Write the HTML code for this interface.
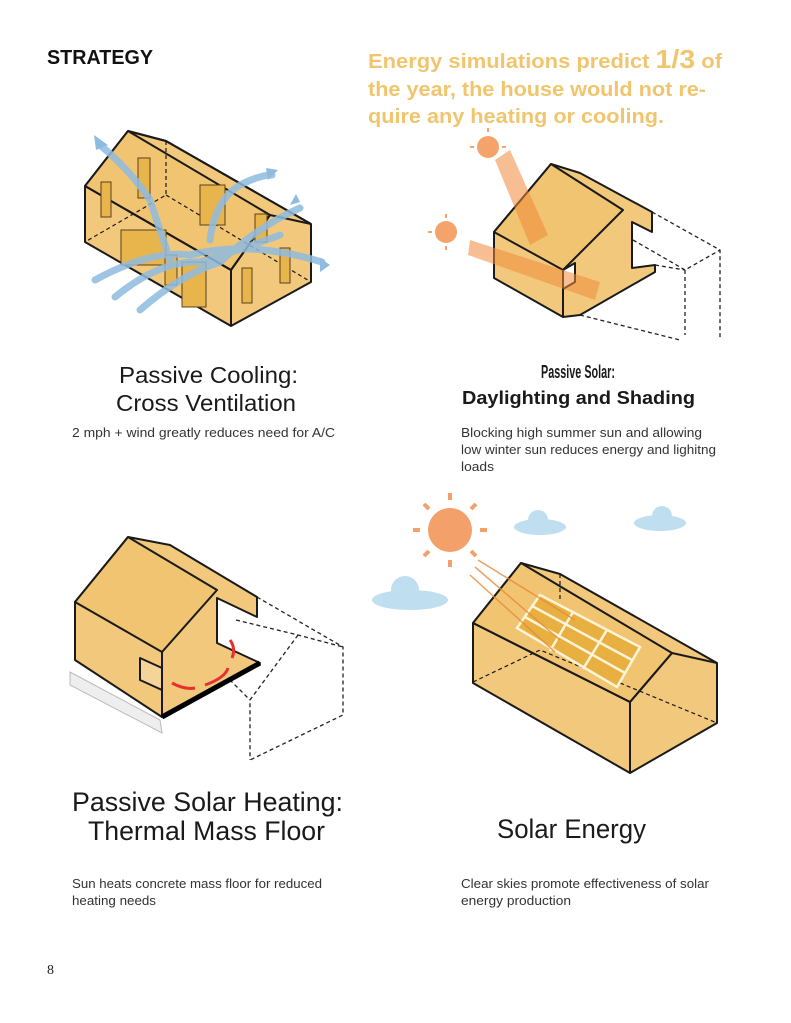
<!DOCTYPE html>
<html><head><meta charset="utf-8"><style>
html,body{margin:0;padding:0;background:#fff;}
svg{display:block;}
.t{font-family:"Liberation Sans Narrow","Liberation Sans",sans-serif;fill:#1a1a1a;}
.d{font-family:"Liberation Sans",sans-serif;fill:#333;font-size:12.5px;}
.h{font-family:"Liberation Sans",sans-serif;font-weight:bold;fill:#f1c56e;font-size:20px;}
</style></head><body>
<svg width="791" height="1023" viewBox="0 0 791 1023" xmlns="http://www.w3.org/2000/svg">
<rect width="791" height="1023" fill="#fff"/>
<text x="47" y="64" font-family="Liberation Sans,sans-serif" font-weight="bold" font-size="20" fill="#111" textLength="106" lengthAdjust="spacingAndGlyphs">STRATEGY</text>
<text class="h" x="368" y="68" textLength="354" lengthAdjust="spacingAndGlyphs">Energy simulations predict <tspan font-size="26">1/3</tspan> of</text>
<text class="h" x="368" y="96" textLength="338" lengthAdjust="spacingAndGlyphs">the year, the house would not re-</text>
<text class="h" x="368" y="123" textLength="296" lengthAdjust="spacingAndGlyphs">quire any heating or cooling.</text>

<!-- House 1 -->
<g stroke="#1a1a1a" stroke-width="2" stroke-linejoin="round">
<polygon points="85,186 128,131 166,141 311,224 311,282 231,326 85,242" fill="#f2c97c"/>
<polygon points="85,186 128,131 270,215 231,270" fill="#f0c470"/>
<polyline points="85,186 231,270 231,326" fill="none"/>
<polyline points="231,270 270,215 311,224" fill="none"/>
<polyline points="128,131 166,141 311,224" fill="none"/>
</g>
<g stroke="#1a1a1a" stroke-width="1.2" stroke-dasharray="4,3" fill="none">
<polyline points="166,141 166,195 85,242"/><line x1="166" y1="195" x2="311" y2="282"/>
</g>
<g fill="#e8b54c" stroke="#5a4020" stroke-width="1">
<rect x="101" y="182" width="10" height="35"/><rect x="138" y="158" width="12" height="40"/>
<rect x="200" y="185" width="25" height="40"/><rect x="255" y="214" width="12" height="28"/>
<rect x="121" y="230" width="45" height="35"/><rect x="165" y="255" width="12" height="30"/>
<rect x="182" y="262" width="24" height="45"/><rect x="242" y="268" width="10" height="35"/><rect x="280" y="248" width="10" height="35"/>
</g>
<g fill="none" stroke="#8fbbe0" stroke-width="7" opacity="0.85" stroke-linecap="round">
<path d="M95,280 Q150,250 190,255 Q250,240 322,262"/>
<path d="M115,297 Q160,260 200,262 Q240,250 280,235"/>
<path d="M140,310 Q180,275 220,262 Q260,225 300,208"/>
<path d="M100,145 Q130,170 150,200 Q160,230 170,260"/>
<path d="M210,240 Q215,200 240,185 Q260,175 272,175"/>
</g>
<g fill="#8fbbe0"><polygon points="94,135 108,145 96,150"/><polygon points="278,170 268,180 266,168"/><polygon points="300,202 290,205 296,194"/><polygon points="330,265 320,258 320,272"/></g>

<!-- House 2 -->
<g stroke="#222" stroke-width="1.3" stroke-dasharray="4,3" fill="none">
<polyline points="652,212 720,250 720,340"/><polyline points="633,240 685,270 720,250"/>
<polyline points="685,270 685,335"/><polyline points="655,265 685,270"/><polyline points="580,315 680,340"/>
</g>
<g stroke="#1a1a1a" stroke-width="2" stroke-linejoin="round">
<polygon points="494,232 551,164 580,173 652,212 652,232 632,222 632,268 655,265 655,272 580,315 563,317 494,278" fill="#f2c97c"/>
<polygon points="494,232 551,164 623,210 563,270" fill="#f0c470"/>
<polyline points="563,270 563,317" fill="none"/>
<polygon points="563,270 575,263 575,282 563,289" fill="#fff"/>
</g>
<g fill="#f08a3a" opacity="0.55">
<polygon points="495,160 510,150 548,235 530,245"/>
<polygon points="470,240 600,282 595,300 468,255"/>
</g>
<circle cx="488" cy="147" r="11" fill="#f4a46a"/><circle cx="446" cy="232" r="11" fill="#f4a46a"/>
<g stroke="#f4a46a" stroke-width="2"><line x1="488" y1="128" x2="488" y2="132"/><line x1="470" y1="147" x2="474" y2="147"/><line x1="502" y1="147" x2="506" y2="147"/><line x1="446" y1="214" x2="446" y2="218"/><line x1="428" y1="232" x2="432" y2="232"/><line x1="446" y1="246" x2="446" y2="250"/></g>

<!-- House 3 -->
<g stroke="#222" stroke-width="1.3" stroke-dasharray="4,3" fill="none">
<polyline points="257,597 343,647 343,715 250,760"/><polyline points="236,620 298,635 343,647"/>
<polyline points="298,635 250,700 250,760"/><polyline points="200,650 250,700"/>
</g>
<polygon points="70,672 160,720 162,733 70,685" fill="#eee" stroke="#bbb"/>
<g stroke="#1a1a1a" stroke-width="2" stroke-linejoin="round">
<polygon points="75,602 128,537 170,545 257,597 257,617 217,598 217,643 260,663 162,717 75,660" fill="#f2c97c"/>
<polygon points="75,602 128,537 217,590 162,652" fill="#f0c470"/>
<polyline points="162,652 162,717" fill="none"/>
<polygon points="140,658 162,668 162,690 140,680" fill="#f5d49a"/>
</g>
<polyline points="162,717 260,663" stroke="#000" stroke-width="5" fill="none"/>
<g fill="none" stroke="#e83030" stroke-width="3"><path d="M172,683 Q185,690 195,688"/><path d="M205,685 Q225,678 228,668"/><path d="M232,658 Q236,648 230,640"/></g>

<!-- House 4 -->
<g fill="#b9dcef" opacity="0.9">
<ellipse cx="540" cy="527" rx="26" ry="8"/><circle cx="538" cy="520" r="10"/><ellipse cx="660" cy="523" rx="26" ry="8"/><circle cx="662" cy="516" r="10"/>
<ellipse cx="410" cy="600" rx="38" ry="10"/><circle cx="405" cy="590" r="14"/>
</g>
<circle cx="450" cy="530" r="22" fill="#f4a06a"/>
<g stroke="#f4a06a" stroke-width="4">
<line x1="450" y1="500" x2="450" y2="493"/><line x1="450" y1="560" x2="450" y2="567"/><line x1="420" y1="530" x2="413" y2="530"/><line x1="480" y1="530" x2="487" y2="530"/>
<line x1="429" y1="509" x2="424" y2="504"/><line x1="471" y1="509" x2="476" y2="504"/><line x1="429" y1="551" x2="424" y2="556"/><line x1="471" y1="551" x2="476" y2="556"/>
</g>
<g stroke="#1a1a1a" stroke-width="2" stroke-linejoin="round">
<polygon points="473,623 521,563 560,574 717,663 717,723 630,773 473,683" fill="#f2c97c"/>
<polygon points="473,623 521,563 672,653 630,702" fill="#f0c470"/>
<polyline points="473,623 630,702 630,773" fill="none"/>
<polyline points="630,702 672,653 717,663" fill="none"/>
</g>
<g stroke="#1a1a1a" stroke-width="1.2" stroke-dasharray="4,3" fill="none"><polyline points="560,574 560,600"/><polyline points="473,682 540,650 717,723"/></g>
<polygon points="540,595 640,647 617,687 517,628" fill="#e8b040" stroke="#fff4d8" stroke-width="2.5"/>
<g stroke="#fff4d8" stroke-width="2.5"><line x1="532" y1="606" x2="632" y2="660"/><line x1="525" y1="617" x2="625" y2="673"/><line x1="573" y1="612" x2="550" y2="651"/><line x1="607" y1="630" x2="583" y2="669"/></g>
<g stroke="#e88a3a" stroke-width="1.5" opacity="0.8"><line x1="478" y1="560" x2="575" y2="620"/><line x1="475" y1="567" x2="560" y2="640"/><line x1="470" y1="575" x2="555" y2="652"/></g>

<!-- Titles -->
<text class="t" x="119" y="383" font-size="23" textLength="179" lengthAdjust="spacingAndGlyphs">Passive Cooling:</text>
<text class="t" x="116" y="411" font-size="23" textLength="180" lengthAdjust="spacingAndGlyphs">Cross Ventilation</text>
<text class="d" x="72" y="437" textLength="263" lengthAdjust="spacingAndGlyphs">2 mph + wind greatly reduces need for A/C</text>
<text class="t" x="541" y="378" font-size="18" font-weight="bold" textLength="74" lengthAdjust="spacingAndGlyphs">Passive Solar:</text>
<text class="t" x="462" y="404" font-size="18" font-weight="bold" textLength="233" lengthAdjust="spacingAndGlyphs">Daylighting and Shading</text>
<text class="d" x="461" y="437" textLength="241" lengthAdjust="spacingAndGlyphs">Blocking high summer sun and allowing</text>
<text class="d" x="461" y="454" textLength="255" lengthAdjust="spacingAndGlyphs">low winter sun reduces energy and lighitng</text>
<text class="d" x="461" y="471" textLength="33" lengthAdjust="spacingAndGlyphs">loads</text>
<text class="t" x="72" y="811" font-size="27" textLength="271" lengthAdjust="spacingAndGlyphs">Passive Solar Heating:</text>
<text class="t" x="88" y="840" font-size="27" textLength="237" lengthAdjust="spacingAndGlyphs">Thermal Mass Floor</text>
<text class="t" x="497" y="838" font-size="27" textLength="149" lengthAdjust="spacingAndGlyphs">Solar Energy</text>
<text class="d" x="72" y="888" textLength="250" lengthAdjust="spacingAndGlyphs">Sun heats concrete mass floor for reduced</text>
<text class="d" x="72" y="905" textLength="84" lengthAdjust="spacingAndGlyphs">heating needs</text>
<text class="d" x="461" y="888" textLength="248" lengthAdjust="spacingAndGlyphs">Clear skies promote effectiveness of solar</text>
<text class="d" x="461" y="905" textLength="110" lengthAdjust="spacingAndGlyphs">energy production</text>
<text x="47" y="974" font-family="Liberation Serif,serif" font-size="14" fill="#222">8</text>
</svg>
</body></html>
